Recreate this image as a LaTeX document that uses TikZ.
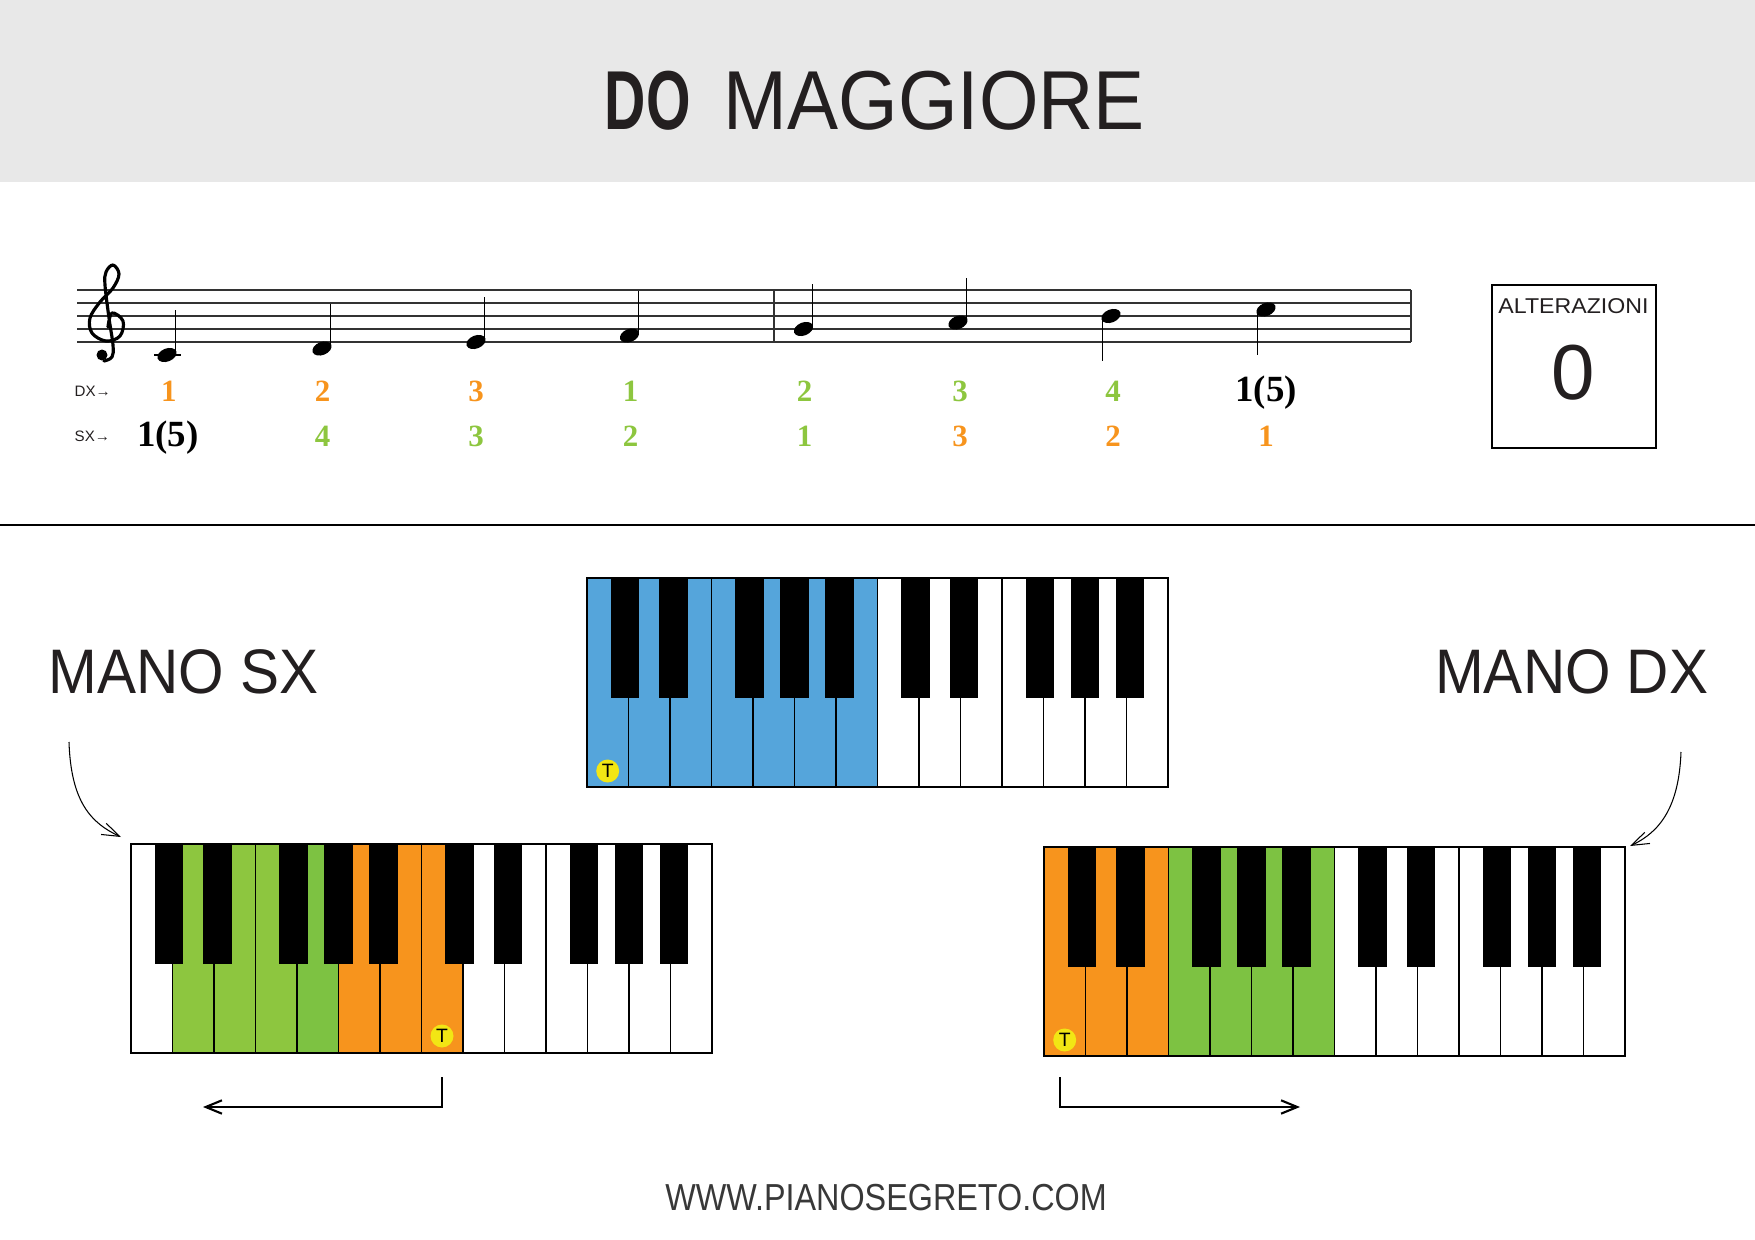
\documentclass[tikz,border=0pt]{standalone}
\usepackage{fontspec}
\setmainfont{Liberation Sans}
\newfontfamily\numfont{Liberation Serif}
\usepackage{tikz}
\usetikzlibrary{arrows.meta, positioning}

\definecolor{bandgray}{HTML}{E8E8E8}
\definecolor{inkdark}{HTML}{231F20}
\definecolor{fingerorange}{HTML}{F7941D}
\definecolor{fingergreen}{HTML}{8DC63F}
\definecolor{keygreen}{HTML}{7DC242}
\definecolor{keyblue}{HTML}{55A5DB}
\definecolor{tonicyellow}{HTML}{F2E614}

\newcommand{\squeeze}[2]{\scalebox{#1}[1]{#2}}

% keyboard of two octaves: #1 top left corner, #2 list of key/colour fills
\newcommand{\pianokeys}[2]{%
  \begin{scope}[shift={(#1)}]
    \foreach \k/\c in {#2}
      \fill[\c] (\k*41.5,0) rectangle ++(41.5,209);
    \foreach \k in {1,...,13}
      \draw[keyline] (\k*41.5,0) -- ++(0,209);
    \foreach \o in {0,7}
      \foreach \b/\d in {1/-0.08,2/0.09,4/-0.09,5/0,6/0.09}
        \fill[black] ({(\o+\b+\d)*41.5-14.25},0) rectangle ++(28.5,120);
    \draw[kbframe] (0,0) rectangle (581,209);
  \end{scope}}

\begin{document}
\begin{tikzpicture}[x=0.1mm, y=-0.1mm,
    every node/.style={inner sep=0pt, text=inkdark},
    staffline/.style={line width=0.4pt, black!80},
    keyline/.style={line width=0.45pt, black},
    kbframe/.style={line width=0.6pt, black},
    finger/.style={font=\numfont\bfseries\fontsize{8.8}{9}\selectfont, anchor=base},
    bigfinger/.style={font=\numfont\bfseries\fontsize{10.5}{11}\selectfont, anchor=base, text=black},
    rowlab/.style={font=\fontsize{4.3}{5}\selectfont, anchor=base west},
    handlab/.style={font=\fontsize{17.9}{20}\selectfont},
    tmark/.style={circle, fill=tonicyellow, minimum size=2.3mm, font=\fontsize{5.5}{6}\selectfont, text=black},
    arr/.style={-{Straight Barb[length=4.6pt, width=3.8pt]}, line width=0.6pt},
    carr/.style={-{Straight Barb[length=5pt, width=3.5pt]}, line width=0.3pt},
  ]
  \useasboundingbox (0,0) rectangle (1755,1240);

  % header
  \fill[bandgray] (0,0) rectangle (1755,182);
  \node[anchor=base west, font=\bfseries\fontsize{23.8}{26}\selectfont] (titledo) at (604,129) {\squeeze{0.684}{DO}};
  \node[right=3.2mm of titledo.base east, anchor=base west, font=\fontsize{23.8}{26}\selectfont] (titlemag) {\squeeze{0.915}{MAGGIORE}};

  % staff
  \foreach \l in {0,...,4}
    \draw[staffline] (77,{290+13*\l}) -- (1411,{290+13*\l});
  \draw[staffline] (774,290) -- (774,342);
  \draw[staffline] (1411,290) -- (1411,342);

  % treble clef
  \draw[line width=0.9pt, line cap=round, line join=round] plot[smooth, tension=0.6] coordinates
    {(108,327) (112,313) (123,321) (120,336) (106,341) (92,333) (90,318) (100,302) (113,288)
     (119,274) (113,265) (106,272) (105,285) (109,318) (113,345) (112,357) (104,361)};
  \fill (102,355) circle [radius=0.55mm];

  % notes
  \draw[line width=0.4pt] (154,355) -- (181,355);
  \foreach \nx/\ny/\sd in {167/355/1, 322/348.5/1, 476/342/1, 629.5/335.5/1,
                           803.5/329/1, 958/322.5/1, 1111/316/-1, 1266/309.5/-1} {
    \fill[rotate around={22:(\nx,\ny)}] (\nx,\ny) ellipse [x radius=1mm, y radius=0.65mm];
    \draw[line width=0.35pt] ({\nx+8.7*\sd},{\ny-2*\sd}) -- ({\nx+8.7*\sd},{\ny-45*\sd});
  }

  % fingering
  \node[rowlab] (dxrow) at (74,396) {DX→};
  \node[rowlab] (sxrow) at (74,441) {SX→};
  \foreach \fx/\fc/\fn [count=\i] in {168.8/fingerorange/1, 322.6/fingerorange/2, 476/fingerorange/3,
      630.6/fingergreen/1, 804.7/fingergreen/2, 960/fingergreen/3, 1113/fingergreen/4}
    \node[finger, text=\fc] (dx\i) at (\fx,401.7) {\fn};
  \node[bigfinger] (dx8) at (1266,401.7) {1(5)};
  \node[bigfinger] (sx1) at (168,446.7) {1(5)};
  \foreach \fx/\fc/\fn [count=\i from 2] in {322.6/fingergreen/4, 476/fingergreen/3, 630.6/fingergreen/2,
      804.7/fingergreen/1, 960/fingerorange/3, 1113/fingerorange/2, 1266/fingerorange/1}
    \node[finger, text=\fc] (sx\i) at (\fx,446.7) {\fn};

  % accidentals box
  \node[draw=black, line width=0.6pt, minimum width=16.37mm, minimum height=16.3mm] (alterbox) at (1574,366.5) {};
  \node[anchor=base, font=\fontsize{6.1}{7}\selectfont] (alterlab) at (1573.5,313) {\squeeze{1.08}{ALTERAZIONI}};
  \node[anchor=base, font=\fontsize{22.2}{24}\selectfont] (alternum) at (1573.5,400) {0};

  \draw[line width=0.65pt] (0,525) -- (1755,525);

  % keyboards
  \coordinate (kbtop) at (587,578);
  \coordinate (kbsx) at (131,844);
  \coordinate (kbdx) at (1044,847);
  \pianokeys{kbtop}{0/keyblue,1/keyblue,2/keyblue,3/keyblue,4/keyblue,5/keyblue,6/keyblue}
  \pianokeys{kbsx}{1/fingergreen,2/fingergreen,3/fingergreen,4/keygreen,5/fingerorange,6/fingerorange,7/fingerorange}
  \pianokeys{kbdx}{0/fingerorange,1/fingerorange,2/fingerorange,3/keygreen,4/keygreen,5/keygreen,6/keygreen}

  \node[tmark] (ttop) at (607.7,771) {T};
  \node[tmark] (tsx) at (442,1036) {T};
  \node[tmark] (tdx) at (1064.7,1040) {T};

  % hands
  \node[handlab, anchor=base west] (sxlab) at (48,693) {\squeeze{0.93}{MANO SX}};
  \node[handlab, anchor=base east] (dxlab) at (1709,693) {\squeeze{0.93}{MANO DX}};

  \coordinate (sxcurve) at (69,742);
  \coordinate (sxtip) at (121,837);
  \coordinate (dxcurve) at (1681,752);
  \coordinate (dxtip) at (1630,846);
  \draw[carr] (sxcurve) .. controls +(2,60) and +(-30,-14) .. (sxtip);
  \draw[carr] (dxcurve) .. controls +(-2,55) and +(30,-14) .. (dxtip);

  \coordinate (sxturn) at (442,1077);
  \coordinate (sxend) at (203,1107);
  \coordinate (dxturn) at (1060.4,1077);
  \coordinate (dxend) at (1300,1107);
  \draw[arr] (sxturn) |- (sxend);
  \draw[arr] (dxturn) |- (dxend);

  % footer
  \node[anchor=base, font=\fontsize{10.7}{12}\selectfont, text=black!78] (site) at (886,1210) {\squeeze{0.86}{WWW.PIANOSEGRETO.COM}};
\end{tikzpicture}
\end{document}
